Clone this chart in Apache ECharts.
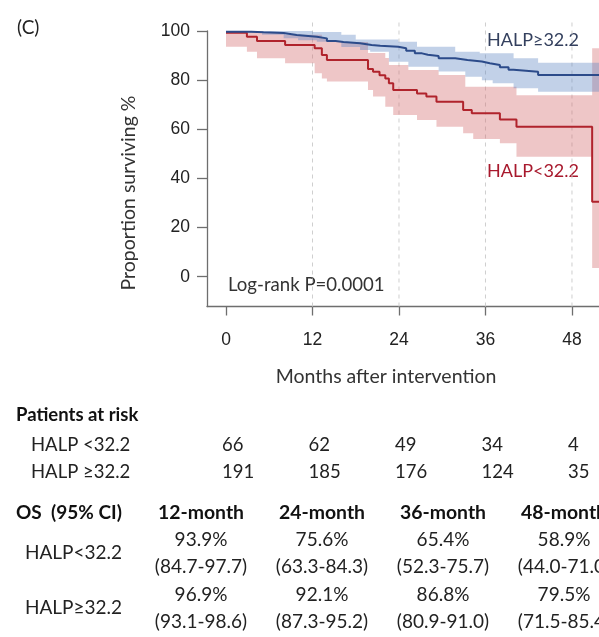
<!DOCTYPE html>
<html>
<head>
<meta charset="utf-8">
<script src="https://cdn.jsdelivr.net/npm/echarts@6/dist/echarts.min.js"></script>
<style>
html,body{margin:0;padding:0;background:#fff;}
#chart{width:599px;height:637px;}
</style>
</head>
<body>
<div id="chart"></div>
<script>
// ---------- DATA ----------
const xTicks = [0, 12, 24, 36, 48];
const yTicks = [0, 20, 40, 60, 80, 100];
const gridMonths = [12, 24, 36, 48];

// Kaplan-Meier step curves [month, survival %]
const lowSurv = [[0,99.3],[2.9,97.7],[4.3,95.9],[8.2,94.3],[12.3,93.0],[13.3,90.2],[14,88.2],[19.7,84.5],[20.4,83.4],[21.3,82.0],[22.1,80.7],[22.6,78.7],[23.2,76.0],[26.5,74.6],[27.8,73.3],[29.2,71.2],[32.9,67.8],[34.1,66.5],[38,64.0],[40.3,61.0],[50.8,30.5],[53,30.5]];
const lowUpper = [[0,100],[4.3,99.5],[8.2,98.5],[13.3,97.0],[14,95.5],[19.7,91.0],[22.1,89.0],[22.6,86.2],[25.3,84.1],[29.5,82.1],[33.2,77.3],[40.3,73.9],[50.8,93.0],[53,93.0]];
const lowLower = [[0,93.6],[2.9,91.6],[4.3,88.9],[8.2,86.9],[12.3,82.8],[13.3,80.7],[14,79.4],[19.7,76.0],[20.4,73.3],[22.1,69.2],[23.2,65.8],[26.5,63.8],[29.2,61.0],[32.9,58.4],[34.3,56.0],[38,54.3],[40.3,48.8],[50.8,3.5],[53,3.5]];

const highSurv = [[0,99.7],[3.5,99.5],[5.2,99.2],[8,98.4],[9.8,97.7],[12.6,97.0],[14,95.9],[15.2,95.5],[16.3,95.0],[18.6,94.3],[20.2,94.0],[21.4,93.6],[23.9,93.0],[25.0,92.0],[26.2,90.9],[27.2,90.3],[28,89.8],[29.5,88.9],[31.8,88.2],[33.5,87.6],[35.5,86.9],[36.6,86.2],[38,85.2],[39.2,84.2],[39.9,83.4],[43.3,82.1],[53,82.1]];
const highUpper = [[0,100],[12,99.6],[16,98.5],[18,96.5],[23.9,95.6],[26.5,93.6],[31.8,91.6],[35.2,90.9],[39.9,88.9],[43.3,87.1],[53,87.1]];
const highLower = [[0,99.3],[5,98.5],[8,97.0],[10,96.2],[12.6,95.6],[16,93.5],[18.6,92.3],[20,91.6],[22.6,87.5],[25.3,85.5],[29.5,83.5],[33.2,81.4],[35.5,80.0],[37,78.7],[39.9,76.7],[43.3,75.3],[53,75.3]];

// Patients at risk
const riskLabels = ['HALP <32.2', 'HALP \u226532.2'];
const riskLow = [66, 62, 49, 34, 4];
const riskHigh = [191, 185, 176, 124, 35];

// OS table
const osHeaders = ['12-month', '24-month', '36-month', '48-month'];
const osLowVal = ['93.9%', '75.6%', '65.4%', '58.9%'];
const osLowCI = ['(84.7-97.7)', '(63.3-84.3)', '(52.3-75.7)', '(44.0-71.0)'];
const osHighVal = ['96.9%', '92.1%', '86.8%', '79.5%'];
const osHighCI = ['(93.1-98.6)', '(87.3-95.2)', '(80.9-91.0)', '(71.5-85.4)'];

// ---------- CHART ----------
const RED = '#b0232c', BLUE = '#2c4b8a';
const RED_BAND = 'rgba(212,112,116,0.40)', BLUE_BAND = 'rgba(95,135,195,0.38)';
const TXT = "Lato, 'Open Sans', sans-serif";
const NUM = "'Liberation Sans', Arial, sans-serif";
const Y_MIN = -12.13, Y_TOP = 104.5;

function stepPts(arr, api) {
  const pts = [];
  for (let i = 0; i < arr.length; i++) {
    pts.push(api.coord([arr[i][0], arr[i][1]]));
    if (i + 1 < arr.length) pts.push(api.coord([arr[i + 1][0], arr[i][1]]));
  }
  return pts;
}
function bandSeries(upper, lower, color) {
  return {
    type: 'custom', silent: true, z: 2,
    data: [[0, 0]],
    renderItem: function (params, api) {
      const up = stepPts(upper, api);
      const lo = stepPts(lower, api).reverse();
      return { type: 'polygon', shape: { points: up.concat(lo) }, style: { fill: color } };
    }
  };
}

const chart = echarts.init(document.getElementById('chart'), null, { renderer: 'canvas' });
const gridLeft = 207, gridTop = 31, gridH = 275.5;

const gridLineSeries = gridMonths.map(function (m) {
  return {
    type: 'line', data: [[m, Y_MIN], [m, Y_TOP]], showSymbol: false, silent: true, clip: false, z: 1,
    lineStyle: { type: [4, 4], color: '#cfcfcf', width: 1 }
  };
});

const option = {
  animation: false,
  backgroundColor: '#fff',
  grid: { left: gridLeft, top: gridTop, right: 0, height: gridH, containLabel: false },
  xAxis: {
    type: 'value', min: -2.636, max: 51.75,
    axisLine: { show: true, onZero: false, lineStyle: { color: '#6e6e6e', width: 1.3 } },
    axisTick: { show: true, length: 9, customValues: xTicks, lineStyle: { color: '#6e6e6e', width: 1.3 } },
    axisLabel: { show: true, customValues: xTicks, margin: 25, fontSize: 17.5, color: '#222', fontFamily: NUM },
    splitLine: { show: false }
  },
  yAxis: {
    type: 'value', min: Y_MIN, max: 100,
    axisLine: { show: true, onZero: false, lineStyle: { color: '#6e6e6e', width: 1.3 } },
    axisTick: { show: true, length: 10, customValues: yTicks, lineStyle: { color: '#6e6e6e', width: 1.3 } },
    axisLabel: { show: true, customValues: yTicks, margin: 17, fontSize: 17.5, color: '#222', fontFamily: NUM },
    splitLine: { show: false }
  },
  series: gridLineSeries.concat([
    bandSeries(lowUpper, lowLower, RED_BAND),
    bandSeries(highUpper, highLower, BLUE_BAND),
    {
      type: 'line', step: 'end', data: lowSurv, showSymbol: false, z: 3,
      lineStyle: { color: RED, width: 2 }, silent: true
    },
    {
      type: 'line', step: 'end', data: highSurv, showSymbol: false, z: 4,
      lineStyle: { color: BLUE, width: 2 }, silent: true
    }
  ])
};
chart.setOption(option);

// ---------- TEXT ----------
const g = [];
function txt(x, y, s, opt) {
  opt = opt || {};
  g.push({
    type: 'text', x: x, y: y, silent: true, rotation: opt.rot || 0,
    style: {
      text: s, fill: opt.color || '#222',
      font: (opt.bold ? 'bold ' : '') + (opt.size || 18) + 'px ' + (opt.family || TXT),
      textAlign: opt.align || 'left', textVerticalAlign: 'middle'
    }
  });
}
txt(17, 28, '(C)', { size: 19 });
txt(129, 193, 'Proportion surviving %', { size: 19.5, align: 'center', rot: Math.PI / 2, color: '#333' });
txt(386, 377, 'Months after intervention', { size: 19.5, align: 'center', color: '#333' });
txt(228, 285, 'Log-rank P=0.0001', { size: 18.6, color: '#333' });
txt(579, 40, 'HALP\u226532.2', { size: 18, align: 'right', color: '#34405e' });
txt(579, 171, 'HALP<32.2', { size: 18, align: 'right', color: '#a8192d' });

// Patients at risk
txt(16, 415, 'Patients at risk', { bold: true, size: 18.5, color: '#111' });
const rowY = [445, 472];
txt(31, rowY[0], riskLabels[0], { size: 18.5 });
txt(31, rowY[1], riskLabels[1], { size: 18.5 });
xTicks.forEach(function (t, i) {
  const px = chart.convertToPixel({ xAxisIndex: 0 }, t);
  txt(px - 4, rowY[0], String(riskLow[i]), { size: 18.5 });
  txt(px - 4, rowY[1], String(riskHigh[i]), { size: 18.5 });
});

// OS table
const colX = [201, 322, 443, 564];
txt(16, 513, 'OS  (95% CI)', { bold: true, size: 19, color: '#111' });
osHeaders.forEach(function (h, i) {
  txt(colX[i], 513, h, { bold: true, size: 19.4, align: 'center', color: '#111' });
  txt(colX[i], 540, osLowVal[i], { size: 19, align: 'center' });
  txt(colX[i], 567, osLowCI[i], { size: 19, align: 'center' });
  txt(colX[i], 595, osHighVal[i], { size: 19, align: 'center' });
  txt(colX[i], 622, osHighCI[i], { size: 19, align: 'center' });
});
txt(122, 553, 'HALP<32.2', { size: 19, align: 'right' });
txt(122, 608, 'HALP\u226532.2', { size: 19, align: 'right' });

chart.setOption({ graphic: g });
</script>
</body>
</html>
